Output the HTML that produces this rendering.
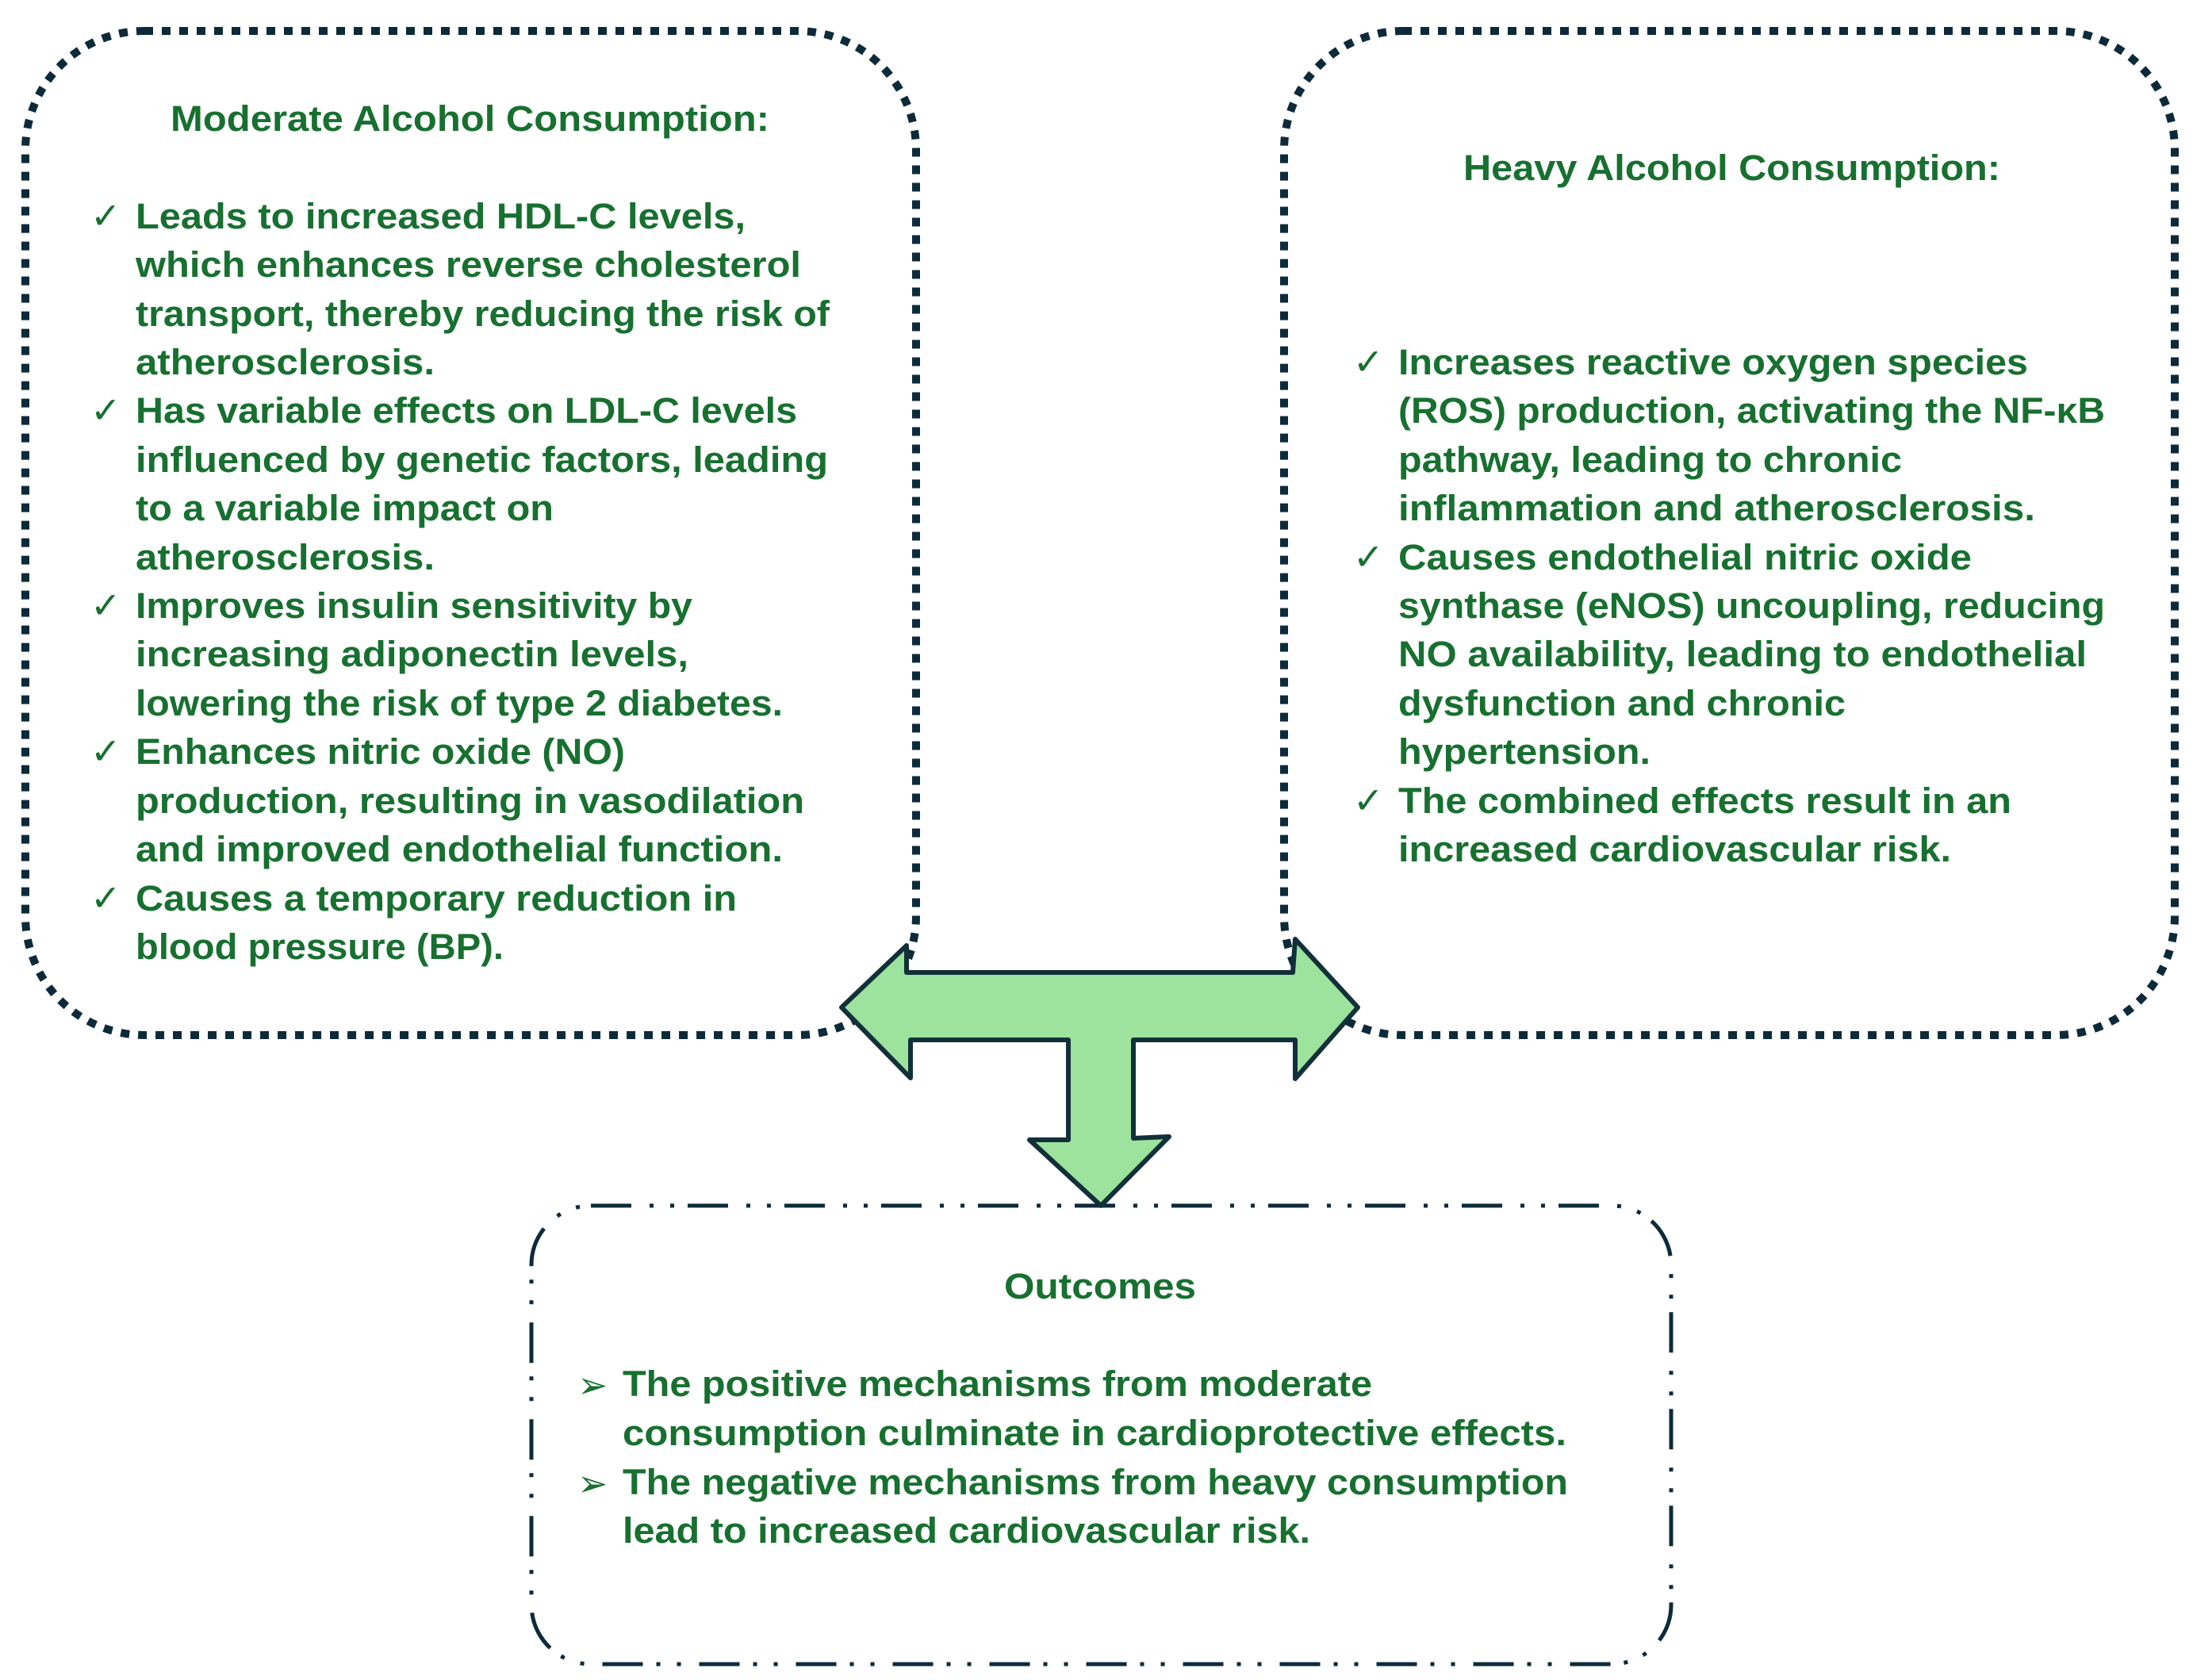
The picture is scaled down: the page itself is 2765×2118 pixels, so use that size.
<!DOCTYPE html>
<html><head><meta charset="utf-8"><style>
html,body{margin:0;padding:0;background:#fff;}
svg{display:block;}
text{font-family:"Liberation Sans","DejaVu Sans",sans-serif;font-weight:bold;fill:#17702f;font-size:45px;}
.ck{font-family:"DejaVu Sans",sans-serif;font-weight:normal;font-size:46px;}
</style></head><body>
<svg width="2765" height="2118" viewBox="0 0 2765 2118" xmlns="http://www.w3.org/2000/svg">
<rect x="32" y="39" width="1123" height="1266" rx="150" fill="none" stroke="#0d2a3a" stroke-width="10" stroke-dasharray="11 11"/>
<rect x="1619" y="39" width="1123" height="1266" rx="150" fill="none" stroke="#0d2a3a" stroke-width="10" stroke-dasharray="11 11"/>
<rect x="670" y="1520" width="1437" height="578" rx="75" fill="none" stroke="#0d2a3a" stroke-width="5" stroke-dasharray="51 23 5 21 5 17"/>
<path d="M1061,1270 L1143,1192 L1143,1226 L1630,1226 L1633,1184 L1712,1270 L1633,1360 L1633,1311 L1429,1311 L1429,1435 L1474,1433 L1388,1520 L1298,1437 L1347,1437 L1347,1311 L1148,1311 L1148,1359 Z" fill="#9de39d" stroke="#12303a" stroke-width="6" stroke-linejoin="round"/>

<text x="215" y="165" textLength="755" lengthAdjust="spacingAndGlyphs">Moderate Alcohol Consumption:</text>
<g>
<text class="ck" x="114" y="288">✓</text>
<text x="171" y="288" textLength="769" lengthAdjust="spacingAndGlyphs">Leads to increased HDL-C levels,</text>
<text x="171" y="349" textLength="839" lengthAdjust="spacingAndGlyphs">which enhances reverse cholesterol</text>
<text x="171" y="411" textLength="875" lengthAdjust="spacingAndGlyphs">transport, thereby reducing the risk of</text>
<text x="171" y="472" textLength="377" lengthAdjust="spacingAndGlyphs">atherosclerosis.</text>
<text class="ck" x="114" y="533">✓</text>
<text x="171" y="533" textLength="834" lengthAdjust="spacingAndGlyphs">Has variable effects on LDL-C levels</text>
<text x="171" y="595" textLength="873" lengthAdjust="spacingAndGlyphs">influenced by genetic factors, leading</text>
<text x="171" y="656" textLength="527" lengthAdjust="spacingAndGlyphs">to a variable impact on</text>
<text x="171" y="718" textLength="377" lengthAdjust="spacingAndGlyphs">atherosclerosis.</text>
<text class="ck" x="114" y="779">✓</text>
<text x="171" y="779" textLength="702" lengthAdjust="spacingAndGlyphs">Improves insulin sensitivity by</text>
<text x="171" y="840" textLength="697" lengthAdjust="spacingAndGlyphs">increasing adiponectin levels,</text>
<text x="171" y="902" textLength="816" lengthAdjust="spacingAndGlyphs">lowering the risk of type 2 diabetes.</text>
<text class="ck" x="114" y="963">✓</text>
<text x="171" y="963" textLength="617" lengthAdjust="spacingAndGlyphs">Enhances nitric oxide (NO)</text>
<text x="171" y="1025" textLength="843" lengthAdjust="spacingAndGlyphs">production, resulting in vasodilation</text>
<text x="171" y="1086" textLength="816" lengthAdjust="spacingAndGlyphs">and improved endothelial function.</text>
<text class="ck" x="114" y="1148">✓</text>
<text x="171" y="1148" textLength="758" lengthAdjust="spacingAndGlyphs">Causes a temporary reduction in</text>
<text x="171" y="1209" textLength="464" lengthAdjust="spacingAndGlyphs">blood pressure (BP).</text>
</g>

<text x="1845" y="227" textLength="677" lengthAdjust="spacingAndGlyphs">Heavy Alcohol Consumption:</text>
<g>
<text class="ck" x="1706" y="472">✓</text>
<text x="1763" y="472" textLength="794" lengthAdjust="spacingAndGlyphs">Increases reactive oxygen species</text>
<text x="1763" y="533" textLength="891" lengthAdjust="spacingAndGlyphs">(ROS) production, activating the NF-κB</text>
<text x="1763" y="595" textLength="635" lengthAdjust="spacingAndGlyphs">pathway, leading to chronic</text>
<text x="1763" y="656" textLength="803" lengthAdjust="spacingAndGlyphs">inflammation and atherosclerosis.</text>
<text class="ck" x="1706" y="718">✓</text>
<text x="1763" y="718" textLength="723" lengthAdjust="spacingAndGlyphs">Causes endothelial nitric oxide</text>
<text x="1763" y="779" textLength="891" lengthAdjust="spacingAndGlyphs">synthase (eNOS) uncoupling, reducing</text>
<text x="1763" y="840" textLength="868" lengthAdjust="spacingAndGlyphs">NO availability, leading to endothelial</text>
<text x="1763" y="902" textLength="564" lengthAdjust="spacingAndGlyphs">dysfunction and chronic</text>
<text x="1763" y="963" textLength="318" lengthAdjust="spacingAndGlyphs">hypertension.</text>
<text class="ck" x="1706" y="1025">✓</text>
<text x="1763" y="1025" textLength="773" lengthAdjust="spacingAndGlyphs">The combined effects result in an</text>
<text x="1763" y="1086" textLength="697" lengthAdjust="spacingAndGlyphs">increased cardiovascular risk.</text>
</g>

<text x="1387" y="1637" text-anchor="middle" textLength="242" lengthAdjust="spacingAndGlyphs">Outcomes</text>
<g>
<text class="ck" x="728" y="1762">➢</text>
<text x="785" y="1760" textLength="945" lengthAdjust="spacingAndGlyphs">The positive mechanisms from moderate</text>
<text x="785" y="1822" textLength="1190" lengthAdjust="spacingAndGlyphs">consumption culminate in cardioprotective effects.</text>
<text class="ck" x="728" y="1886">➢</text>
<text x="785" y="1884" textLength="1192" lengthAdjust="spacingAndGlyphs">The negative mechanisms from heavy consumption</text>
<text x="785" y="1945" textLength="867" lengthAdjust="spacingAndGlyphs">lead to increased cardiovascular risk.</text>
</g>
</svg>
</body></html>
